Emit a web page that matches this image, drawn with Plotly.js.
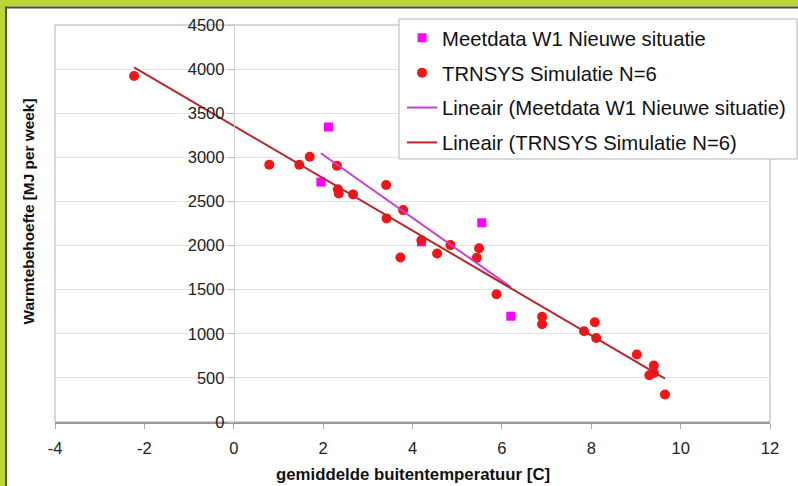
<!DOCTYPE html>
<html>
<head>
<meta charset="utf-8">
<script src="https://cdn.plot.ly/plotly-3.0.1.min.js"></script>
<style>
html,body{margin:0;padding:0;background:#fff;}
#chart{width:798px;height:486px;}
</style>
</head>
<body>
<div id="chart"></div>
<script>
// Meetdata W1 Nieuwe situatie (squares)
var meetX = [2.12, 1.95, 4.20, 5.55, 6.20];
var meetY = [3344, 2720, 2042, 2258, 1199];

// TRNSYS Simulatie N=6 (circles)
var trnX = [-2.23, 0.795, 1.467, 1.70, 2.31, 2.33, 2.35, 2.67, 3.41, 3.42, 3.79, 4.20, 4.85, 5.49,
            3.73, 4.55, 5.44, 5.88, 6.90, 6.90, 7.84, 8.08, 8.11, 9.02, 9.40, 9.30, 9.40, 9.65];
var trnY = [3922, 2916, 2916, 3007, 2905, 2637, 2591, 2580, 2686, 2308, 2402, 2059, 2005, 1970,
            1865, 1910, 1861, 1449, 1192, 1108, 1029, 1131, 953, 765, 640, 530, 556, 311];

var xTicks = [-4, -2, 0, 2, 4, 6, 8, 10, 12];
var yTicks = [0, 500, 1000, 1500, 2000, 2500, 3000, 3500, 4000, 4500];

var names = ["Meetdata W1 Nieuwe situatie", "TRNSYS Simulatie N=6",
             "Lineair (Meetdata W1 Nieuwe situatie)", "Lineair (TRNSYS Simulatie N=6)"];
var xTitle = "gemiddelde buitentemperatuur [C]";
var yTitle = "Warmtebehoefte [MJ per week]";

// Linear trendline (least squares), spanning data x range
function trend(xs, ys) {
  var n = xs.length, sx = 0, sy = 0, sxx = 0, sxy = 0;
  for (var i = 0; i < n; i++) { sx += xs[i]; sy += ys[i]; sxx += xs[i]*xs[i]; sxy += xs[i]*ys[i]; }
  var b = (n*sxy - sx*sy) / (n*sxx - sx*sx);
  var a = (sy - b*sx) / n;
  var x0 = Math.min.apply(null, xs), x1 = Math.max.apply(null, xs);
  return {x: [x0, x1], y: [a + b*x0, a + b*x1]};
}
var tMeet = trend(meetX, meetY);
var tTrn = trend(trnX, trnY);

var FONT = "Liberation Sans, Arial, sans-serif";

var data = [
  {x: meetX, y: meetY, type: "scatter", mode: "markers", name: names[0], legendgroup: "a",
   marker: {symbol: "square", size: 9, color: "#ff00ff"}},
  {x: trnX, y: trnY, type: "scatter", mode: "markers", name: names[1], legendgroup: "b",
   marker: {symbol: "circle", size: 10, color: "#f21515"}},
  {x: tMeet.x, y: tMeet.y, type: "scatter", mode: "lines", name: names[2], legendgroup: "c",
   line: {color: "#c63fd6", width: 2}},
  {x: tTrn.x, y: tTrn.y, type: "scatter", mode: "lines", name: names[3], legendgroup: "d",
   line: {color: "#b8262c", width: 2}}
];

var layout = {
  width: 798, height: 486,
  margin: {l: 55, r: 28, t: 25, b: 64, pad: 0, autoexpand: false},
  paper_bgcolor: "#ffffff", plot_bgcolor: "#ffffff",
  font: {family: FONT, color: "#222"},
  showlegend: true,
  legend: {x: 0.4840, y: 1.020, xanchor: "left", yanchor: "top",
           bgcolor: "rgba(0,0,0,0)", bordercolor: "rgba(0,0,0,0)", borderwidth: 1,
           font: {family: FONT, size: 20.3, color: "#111"},
           tracegroupgap: 5.5, traceorder: "grouped"},
  xaxis: {range: [-4, 12], tickvals: xTicks, ticktext: xTicks.map(String),
          showgrid: false, zeroline: false, showline: true, linecolor: "#999", linewidth: 2,
          ticks: "outside", ticklen: 5, tickcolor: "#aaa", ticklabelstandoff: 5,
          tickfont: {family: FONT, size: 16.5, color: "#222"}, fixedrange: true},
  yaxis: {range: [0, 4500], tickvals: yTicks, ticktext: yTicks.map(String),
          anchor: "free", position: 0.25,
          showgrid: true, gridcolor: "#e2e2e2", gridwidth: 1, zeroline: false,
          showline: true, linecolor: "#d0d0d0", linewidth: 1,
          ticks: "outside", ticklen: 6, tickcolor: "#bbb",
          tickfont: {family: FONT, size: 16.5, color: "#222"}, fixedrange: true},
  shapes: [
    {type: "rect", xref: "paper", yref: "paper", x0: 0, x1: 1, y0: 0, y1: 1,
     line: {color: "#b0b0b0", width: 1}, layer: "below"},
    // legend box
    {type: "rect", xref: "paper", yref: "paper", x0: 0.4811, x1: 1.0378, y0: 0.6625, y1: 1.0151,
     fillcolor: "#ffffff", line: {color: "#b5b5b5", width: 1}, layer: "above"},
    // green frame top & left
    {type: "rect", xref: "paper", yref: "paper", x0: -0.2, x1: 1.2, y0: 1.0466, y1: 1.2,
     fillcolor: "#bdd534", line: {width: 0}},
    {type: "rect", xref: "paper", yref: "paper", x0: -0.2, x1: -0.0699, y0: -0.3, y1: 1.2,
     fillcolor: "#bdd534", line: {width: 0}},
    {type: "line", xref: "paper", yref: "paper", x0: -0.0699, x1: 1.2, y0: 1.0441, y1: 1.0441,
     line: {color: "#4a4f2a", width: 2}},
    {type: "line", xref: "paper", yref: "paper", x0: -0.0685, x1: -0.0685, y0: -0.3, y1: 1.0466,
     line: {color: "#4a4f2a", width: 2}}
  ],
  annotations: [
    {text: "<b>" + xTitle + "</b>", xref: "paper", yref: "paper", x: 0.5007, y: -0.131,
     xanchor: "center", yanchor: "middle", showarrow: false,
     font: {family: FONT, size: 16.8, color: "#111"}},
    {text: "<b>" + yTitle + "</b>", xref: "paper", yref: "paper", x: -0.0364, y: 0.530,
     xanchor: "center", yanchor: "middle", showarrow: false, textangle: -90,
     font: {family: FONT, size: 15.4, color: "#111"}}
  ]
};

Plotly.newPlot("chart", data, layout, {displayModeBar: false, staticPlot: true});
</script>
</body>
</html>
